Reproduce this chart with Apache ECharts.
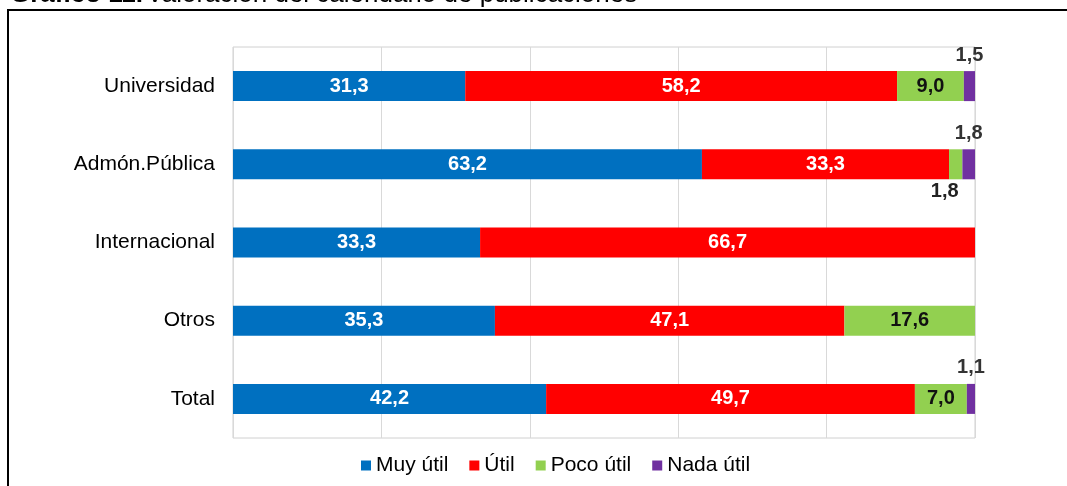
<!DOCTYPE html>
<html>
<head>
<meta charset="utf-8">
<script src="https://cdn.jsdelivr.net/npm/echarts@6/dist/echarts.min.js"></script>
<style>
  html, body { margin: 0; padding: 0; background: #fff; }
  #chart { width: 1067px; height: 486px; }
</style>
</head>
<body>
<div id="chart"></div>
<script>
const categories = ['Universidad', 'Admón.Pública', 'Internacional', 'Otros', 'Total'];
const muyUtil = [31.3, 63.2, 33.3, 35.3, 42.2];
const util = [58.2, 33.3, 66.7, 47.1, 49.7];
const pocoUtil = [9.0, 1.8, 0, 17.6, 7.0];
const nadaUtil = [1.5, 1.8, 0, 0, 1.1];

const font = '"Liberation Sans", Arial, sans-serif';

// number with comma decimal, hide zeros
const fmt = (p) => p.value ? p.value.toFixed(1).replace('.', ',') : '';

const chart = echarts.init(document.getElementById('chart'));

// small segments get their label outside the bar
const pocoData = pocoUtil.map(v => v > 0 && v < 3
  ? { value: v, label: { position: 'bottom', distance: 2, offset: [-11, 0], color: '#222' } }
  : v);
const nadaData = nadaUtil.map(v => ({ value: v }));

const baseLabel = {
  show: true,
  fontFamily: font,
  fontSize: 20,
  fontWeight: 'bold',
  formatter: fmt
};

const options = {
  animation: false,
  textStyle: { fontFamily: font },
  graphic: [
    {
      type: 'rect',
      shape: { x: 8, y: 10, width: 1200, height: 600 },
      style: { fill: 'none', stroke: '#000', lineWidth: 2 }
    },
    {
      type: 'text',
      left: 10,
      top: -18,
      style: {
        rich: {
          b: { fontFamily: font, fontSize: 26, fontWeight: 'bold', fill: '#000' },
          n: { fontFamily: font, fontSize: 26, fill: '#000' }
        },
        text: '{b|Gráfico 11.} {n|Valoración del calendario de publicaciones}'
      }
    }
  ],
  grid: {
    left: 233,
    top: 47,
    width: 742,
    height: 391,
    show: true,
    borderColor: '#d0d0d0',
    borderWidth: 1
  },
  legend: {
    left: 356,
    top: 450,
    icon: 'rect',
    itemWidth: 10,
    itemHeight: 10,
    itemGap: 21,
    textStyle: { fontFamily: font, fontSize: 21, color: '#000' },
    data: ['Muy útil', 'Útil', 'Poco útil', 'Nada útil']
  },
  xAxis: {
    type: 'value',
    min: 0,
    max: 100,
    interval: 20,
    axisLabel: { show: false },
    axisLine: { show: false },
    axisTick: { show: false },
    splitLine: { lineStyle: { color: '#d9d9d9' } }
  },
  yAxis: {
    type: 'category',
    inverse: true,
    data: categories,
    axisLine: { show: false },
    axisTick: { show: false },
    axisLabel: { fontFamily: font, fontSize: 21, color: '#000', margin: 18, padding: [4, 0, 0, 0] }
  },
  series: [
    {
      name: 'Muy útil',
      type: 'bar',
      stack: 'total',
      barWidth: 30,
      itemStyle: { color: '#0070C0' },
      label: { ...baseLabel, color: '#fff' },
      data: muyUtil
    },
    {
      name: 'Útil',
      type: 'bar',
      stack: 'total',
      itemStyle: { color: '#FF0000' },
      label: { ...baseLabel, color: '#fff' },
      data: util
    },
    {
      name: 'Poco útil',
      type: 'bar',
      stack: 'total',
      itemStyle: { color: '#92D050' },
      label: { ...baseLabel, color: '#111' },
      data: pocoData
    },
    {
      name: 'Nada útil',
      type: 'bar',
      stack: 'total',
      itemStyle: { color: '#7030A0' },
      label: { ...baseLabel, color: '#333', position: 'top', distance: 6 },
      data: nadaData
    }
  ]
};

chart.setOption(options);
</script>
</body>
</html>
